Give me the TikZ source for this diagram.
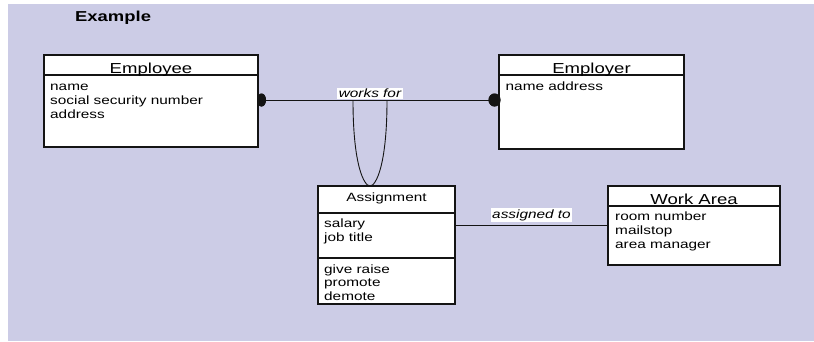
\documentclass[tikz,border=0pt]{standalone}
\usepackage{fontspec}
\setmainfont[FakeStretch=1.28]{Liberation Sans}
\usetikzlibrary{shapes.geometric}
\definecolor{panel}{RGB}{204,204,230}
\definecolor{ink}{RGB}{20,20,20}
\begin{document}
\begin{tikzpicture}[x=1pt,y=-1pt,
  classbox/.style={draw=ink,fill=white,line width=1.1pt,inner sep=0pt,outer sep=0pt},
  divider/.style={draw=ink,line width=1.1pt},
  title/.style={anchor=base,inner sep=0pt,font=\fontsize{14.5}{16}\selectfont},
  smalltitle/.style={anchor=base,inner sep=0pt,font=\fontsize{12}{14}\selectfont},
  attr/.style={anchor=base west,inner sep=0pt,font=\fontsize{12}{14}\selectfont},
  link/.style={draw=ink,line width=0.9pt},
  dot/.style={ellipse,fill=ink,draw=none,inner sep=0pt},
  rellabel/.style={fill=white,inner sep=1.5pt,font=\fontsize{12}{14}\selectfont\itshape}]
\useasboundingbox (0,0) rectangle (814,341);
\fill[panel] (8,4) rectangle (814,341);

% heading
\node[anchor=base west,inner sep=0pt,font=\fontsize{14.4}{16}\selectfont\bfseries] (hdr) at (75,21.5) {Example};

% Employee
\node[classbox,minimum width=214,minimum height=92] (emp) at (151,101) {};
\draw[divider] ([yshift=-20pt]emp.north west) -- ([yshift=-20pt]emp.north east);
\node[title] (empt) at (151,73.3) {Employee};
\node[attr] (empa1) at (50,90) {name};
\node[attr] (empa2) at (50,104) {social security number};
\node[attr] (empa3) at (50,118) {address};

% Employer
\node[classbox,minimum width=185,minimum height=94] (emr) at (591.5,102) {};
\draw[divider] ([yshift=-20pt]emr.north west) -- ([yshift=-20pt]emr.north east);
\node[title] (emrt) at (591.5,73.3) {Employer};
\node[attr] (emra1) at (505.5,90) {name address};

% Assignment
\node[classbox,minimum width=137,minimum height=118] (asg) at (386.5,245) {};
\draw[divider] ([yshift=-27pt]asg.north west) -- ([yshift=-27pt]asg.north east);
\draw[divider] ([yshift=-72pt]asg.north west) -- ([yshift=-72pt]asg.north east);
\node[smalltitle] (asgt) at (386.5,201) {Assignment};
\node[attr] (asga1) at (324,227) {salary};
\node[attr] (asga2) at (324,241) {job title};
\node[attr] (asgo1) at (324,273) {give raise};
\node[attr] (asgo2) at (324,286.5) {promote};
\node[attr] (asgo3) at (324,300) {demote};

% Work Area
\node[classbox,minimum width=172,minimum height=79] (wa) at (694,225.5) {};
\draw[divider] ([yshift=-20pt]wa.north west) -- ([yshift=-20pt]wa.north east);
\node[title] (wat) at (694,204) {Work Area};
\node[attr] (waa1) at (615,220.5) {room number};
\node[attr] (waa2) at (615,234.5) {mailstop};
\node[attr] (waa3) at (615,248.5) {area manager};

% works for: Employee -- Employer, with the loop down to Assignment
\node[dot,minimum width=9,minimum height=13] (d1) at (261.5,100) {};
\node[dot,minimum width=12,minimum height=13] (d2) at (494.5,100) {};
\draw[link] (d1.center) -- (d2.center);
\coordinate (l1) at (353,100.5);
\coordinate (l2) at (387,100.5);
\coordinate (lb) at (asg.north -| 370,0);
\draw[link] (l1) .. controls (353,165) and (364,186) .. (lb)
            .. controls (376,186) and (387,165) .. (l2);
\node[dot,minimum width=9,minimum height=13] at (d1) {};
\node[dot,minimum width=12,minimum height=13] at (d2) {};
\node[rellabel] (wf) at (370,93.5) {works for};

% assigned to: Assignment -- Work Area
\draw[link] (wa.west -| asg.east) -- (wa.west);
\node[rellabel] (at) at (531.5,215) {assigned to};
\end{tikzpicture}
\end{document}
